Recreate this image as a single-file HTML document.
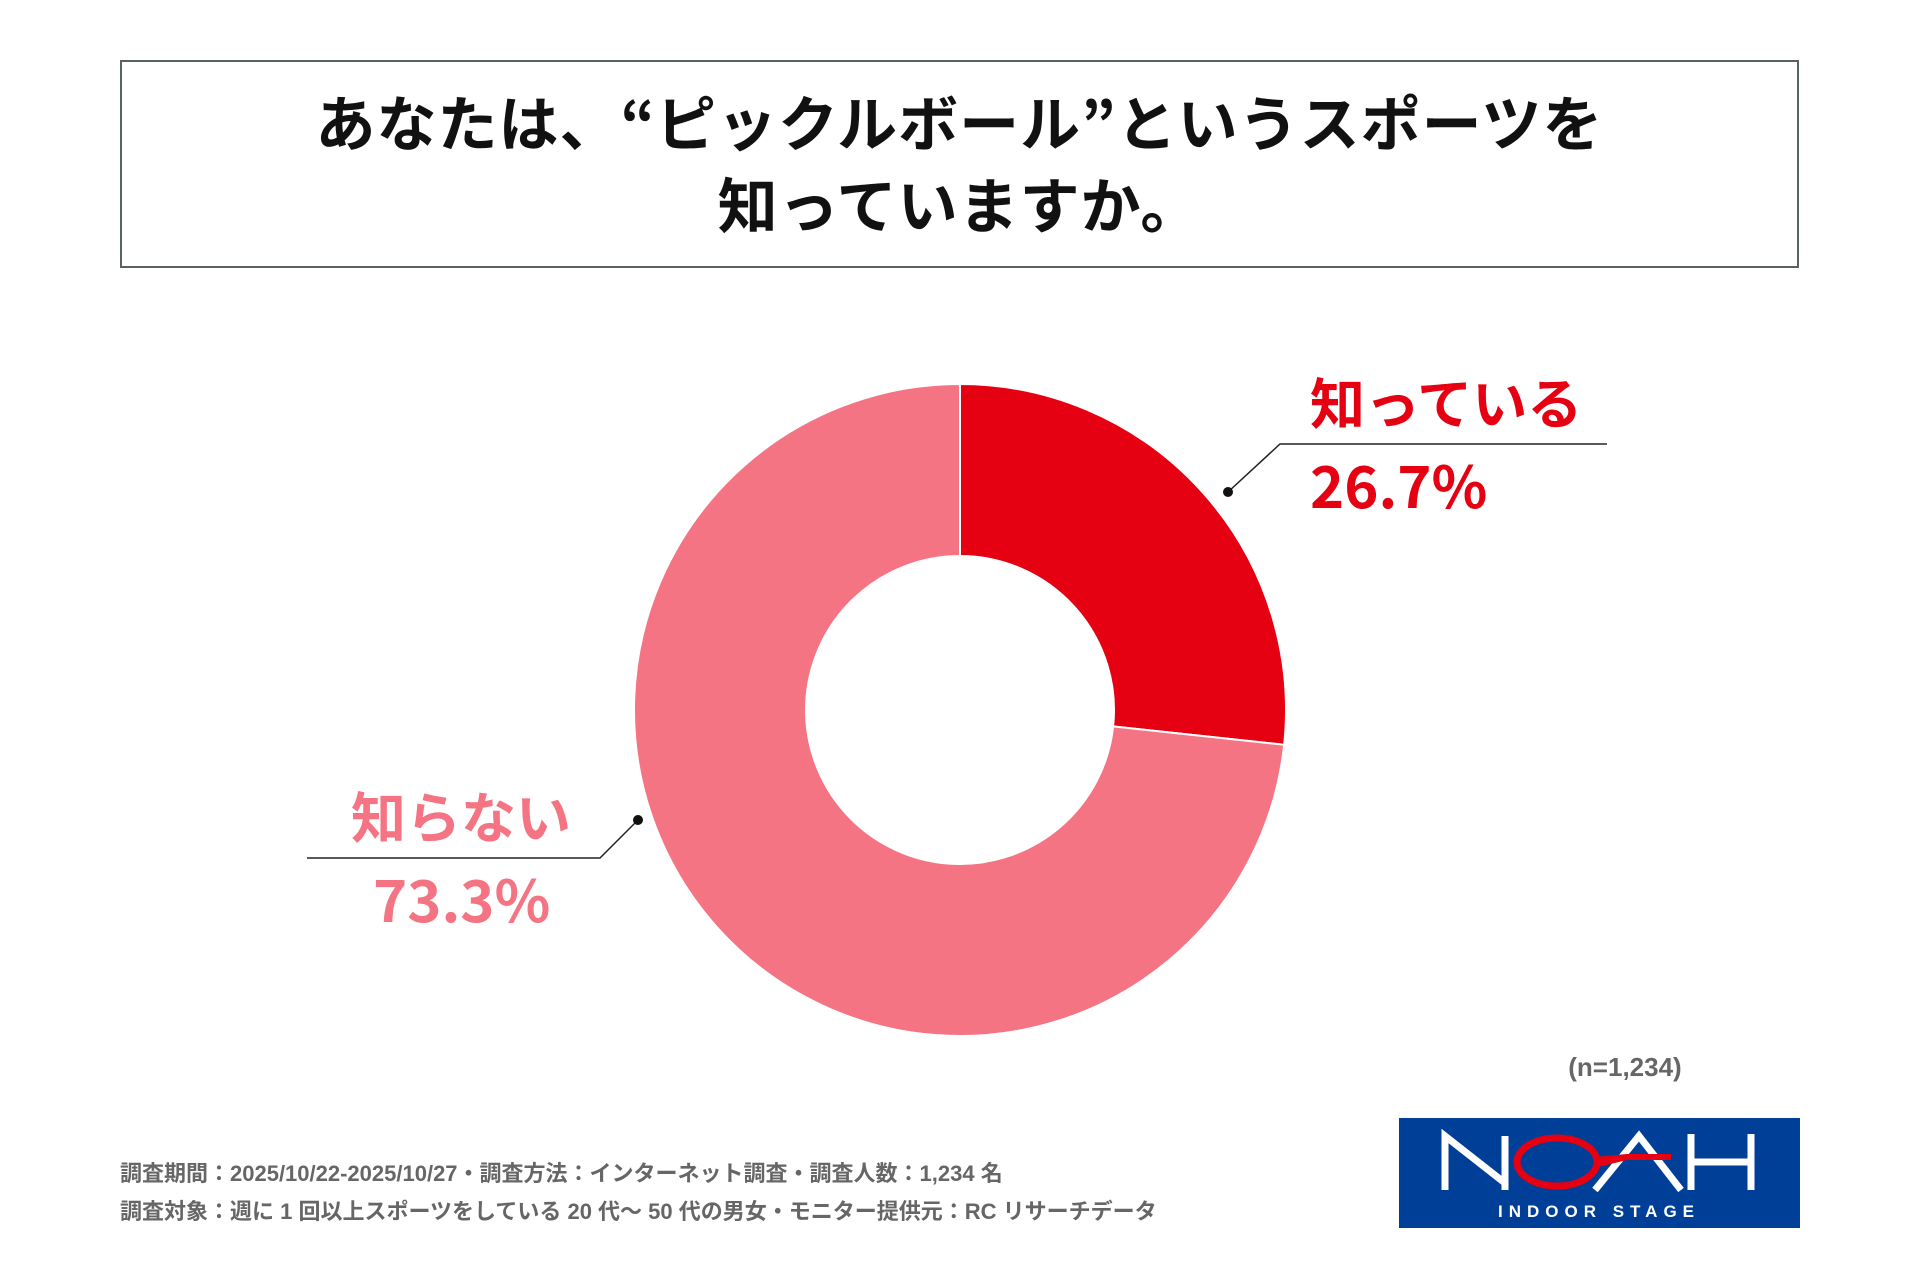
<!DOCTYPE html>
<html><head><meta charset="utf-8"><style>
body{margin:0;width:1920px;height:1280px;background:#fff;position:relative;overflow:hidden;font-family:"Liberation Sans","Noto Sans CJK JP",sans-serif}
.abs{position:absolute}
</style></head><body>
<div class="abs" style="left:120px;top:60px;width:1675px;height:204px;border:2px solid #5b6266;"></div>
<div class="abs" style="left:120px;top:80px;width:1679px;text-align:center;font-family:'Noto Sans CJK JP',sans-serif;font-size:60px;font-weight:bold;line-height:82px;color:#111;letter-spacing:1px;">あなたは、“ピックルボール”というスポーツを<br>知っていますか。</div>
<svg class="abs" style="left:0;top:0" width="1920" height="1280">
<g id="slices"></g>
<g id="labels"></g>
</svg>
<div class="abs" style="left:1560px;top:1052px;width:130px;text-align:center;font-size:26px;font-weight:bold;color:#666;">(n=1,234)</div>
<div class="abs" style="left:120px;top:1155px;font-size:22px;font-weight:bold;color:#666;line-height:38px;white-space:nowrap;">調査期間：2025/10/22-2025/10/27・調査方法：インターネット調査・調査人数：1,234 名<br>調査対象：週に 1 回以上スポーツをしている 20 代～ 50 代の男女・モニター提供元：RC リサーチデータ</div>
<div class="abs" style="left:1399px;top:1118px;width:401px;height:110px;background:#003f98;">
<svg width="401" height="110">
<g fill="none" stroke="#fff" stroke-width="7">
<path d="M46,72 V18 L106,65 V18 M106,65 V72"/>
<path d="M196,72 L240,18 L282,72"/>
<path d="M292,16 V72 M352,16 V72 M292,44 H352"/>
</g>
<ellipse cx="158" cy="44" rx="40" ry="24" fill="none" stroke="#e50012" stroke-width="7"/>
<path d="M195,39 L228,36 H272 V42 H228 L195,50Z" fill="#e50012"/>
<text x="200" y="99" text-anchor="middle" fill="#fff" font-size="17" font-weight="bold" letter-spacing="6">INDOOR STAGE</text>
</svg></div>
<script>
const categories=["知っている","知らない"];
const values=[26.7,73.3];
const valueLabels=["26.7%","73.3%"];
const colors=["#e50012","#f47483"];
const cx=960,cy=710,R=326,r=154;
const ns="http://www.w3.org/2000/svg";
const g=document.getElementById('slices');
const total=values.reduce((a,b)=>a+b,0);
let a0=0;
function pt(rad,a){return [cx+rad*Math.sin(a),cy-rad*Math.cos(a)];}
values.forEach((v,i)=>{
 const a1=a0+v/total*2*Math.PI;
 const large=(a1-a0)>Math.PI?1:0;
 const p1=pt(R,a0),p2=pt(R,a1),p3=pt(r,a1),p4=pt(r,a0);
 const p=document.createElementNS(ns,'path');
 p.setAttribute('d',`M${p1} A${R},${R} 0 ${large} 1 ${p2} L${p3} A${r},${r} 0 ${large} 0 ${p4}Z`);
 p.setAttribute('fill',colors[i]);p.setAttribute('stroke','#fff');p.setAttribute('stroke-width','2');
 
 
 g.appendChild(p);
 a0=a1;
});
const L=document.getElementById('labels');
const lab=[{dot:[1228,492],elbow:[1280,444],end:[1607,444],tx:1310,cx:1310},
 {dot:[638,820],elbow:[600,858],end:[307,858],tx:373,cx:351}];
lab.forEach((o,i)=>{
 const pl=document.createElementNS(ns,'polyline');
 pl.setAttribute('points',`${o.dot} ${o.elbow} ${o.end}`);
 pl.setAttribute('fill','none');pl.setAttribute('stroke','#222');pl.setAttribute('stroke-width','1.5');
 
 
 L.appendChild(pl);
 const c=document.createElementNS(ns,'circle');
 c.setAttribute('cx',o.dot[0]);c.setAttribute('cy',o.dot[1]);c.setAttribute('r',5);c.setAttribute('fill','#111');
 
 
 L.appendChild(c);
 const t1=document.createElementNS(ns,'text');
 t1.setAttribute('x',o.cx);t1.setAttribute('y',o.elbow[1]-20);
 t1.setAttribute('fill',colors[i]);t1.setAttribute('font-size','55');t1.setAttribute('font-weight','bold');
 t1.setAttribute('font-family','Noto Sans CJK JP, sans-serif');
 t1.textContent=categories[i];
 
 
 L.appendChild(t1);
 const t2=document.createElementNS(ns,'text');
 t2.setAttribute('x',o.tx);t2.setAttribute('y',o.elbow[1]+64);
 t2.setAttribute('fill',colors[i]);t2.setAttribute('font-size','58');t2.setAttribute('font-weight','bold');
 t2.setAttribute('font-family','Noto Sans CJK JP, sans-serif');
 t2.textContent=valueLabels[i];
 
 
 L.appendChild(t2);
});
</script>
</body></html>
